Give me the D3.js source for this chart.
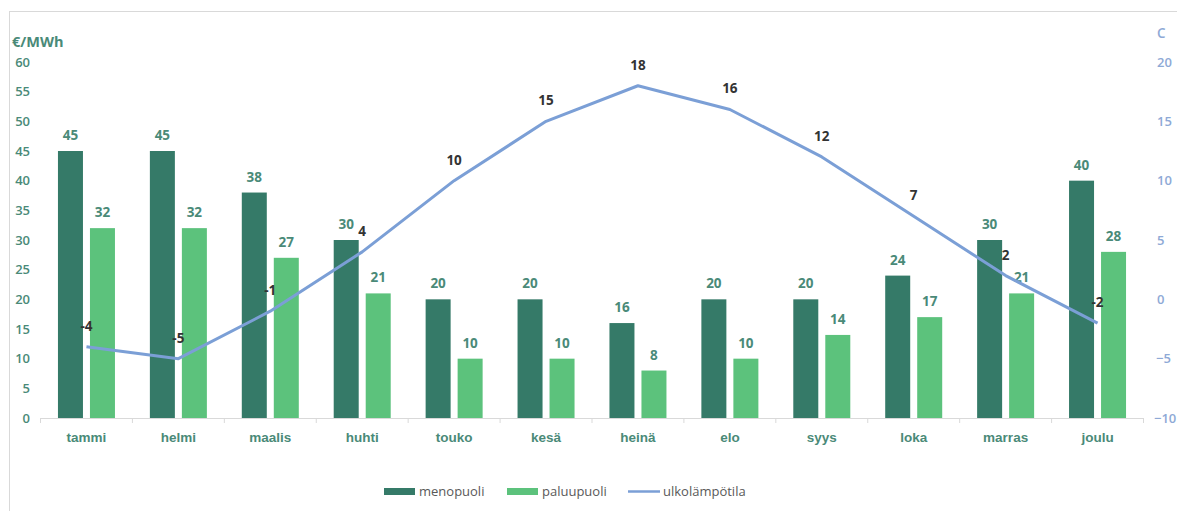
<!DOCTYPE html>
<html>
<head>
<meta charset="utf-8">
<script src="https://cdn.jsdelivr.net/npm/d3@7"></script>
<style>
  html, body { margin: 0; padding: 0; background: #fff; }
  svg { display: block; font-family: "Open Sans", "Noto Sans", sans-serif; }
</style>
</head>
<body>
<svg id="chart" width="1177" height="511"></svg>
<script>
// Monthly supply / return prices and outdoor temperature
const months = ["tammi", "helmi", "maalis", "huhti", "touko", "kesä", "heinä", "elo", "syys", "loka", "marras", "joulu"];
const menopuoli = [45, 45, 38, 30, 20, 20, 16, 20, 20, 24, 30, 40];
const paluupuoli = [32, 32, 27, 21, 10, 10, 8, 10, 14, 17, 21, 28];
const ulkolampotila = [-4, -5, -1, 4, 10, 15, 18, 16, 12, 7, 2, -2];
const leftTicks = [0, 5, 10, 15, 20, 25, 30, 35, 40, 45, 50, 55, 60];
const rightTicks = [-10, -5, 0, 5, 10, 15, 20];
const seriesNames = ["menopuoli", "paluupuoli", "ulkolämpötila"];

const colDark = "#357a68";
const colLight = "#5cc27c";
const colLine = "#7b9fd6";
const colAxisL = "#4a8a78";
const colAxisR = "#8ea9d6";

const svg = d3.select("#chart");

// chart frame
svg.append("rect")
  .attr("x", 9.5).attr("y", 11.5)
  .attr("width", 1180).attr("height", 520)
  .attr("fill", "none").attr("stroke", "#d9d9d9").attr("stroke-width", 1);

const plot = { left: 40.5, right: 1143.5, top: 62, bottom: 418 };

const x = d3.scaleBand().domain(months).range([plot.left, plot.right]).paddingInner(0).paddingOuter(0);
const yL = d3.scaleLinear().domain([0, 60]).range([plot.bottom, plot.top]);
const yR = d3.scaleLinear().domain([-10, 20]).range([plot.bottom, plot.top]);

const barW = 25, gap = 7;

// left axis
const axL = svg.append("g").attr("transform", `translate(${30},0)`)
  .call(d3.axisLeft(yL).tickValues(leftTicks).tickSize(0).tickPadding(0));
axL.select(".domain").remove();
axL.selectAll("text").attr("fill", colAxisL).attr("font-size", 13).attr("font-weight", 600)
  .attr("font-family", "'Open Sans', sans-serif");

svg.append("text").attr("x", 12).attr("y", 47).text("€/MWh")
  .attr("fill", colAxisL).attr("font-size", 14.5).attr("font-weight", 700);

// right axis
const axR = svg.append("g").attr("transform", `translate(${1157},0)`)
  .call(d3.axisRight(yR).tickValues(rightTicks).tickSize(0).tickPadding(0));
axR.select(".domain").remove();
axR.selectAll("text").attr("fill", colAxisR).attr("font-size", 13).attr("font-weight", 600)
  .attr("font-family", "'Open Sans', sans-serif")
  .attr("dx", d => d < 0 ? (d === -10 ? -3 : -1) : 0);

svg.append("text").attr("x", 1157).attr("y", 38).text("C")
  .attr("fill", colAxisR).attr("font-size", 13.5).attr("font-weight", 600);

// category axis
const axB = svg.append("g").attr("transform", `translate(0,${plot.bottom})`)
  .call(d3.axisBottom(x).tickSize(0).tickPadding(14));
axB.select(".domain").attr("stroke", "#d9d9d9");
axB.selectAll("text").attr("fill", colAxisL).attr("font-size", 13.5).attr("font-weight", 700);
svg.append("g").selectAll("line")
  .data(d3.range(months.length + 1))
  .join("line")
  .attr("x1", i => plot.left + i * x.step()).attr("x2", i => plot.left + i * x.step())
  .attr("y1", plot.bottom).attr("y2", plot.bottom + 5)
  .attr("stroke", "#d9d9d9");

// bars
const cx = m => x(m) + x.bandwidth() / 2;
const g = svg.append("g");
g.selectAll(".b1").data(months).join("rect")
  .attr("x", m => cx(m) - gap / 2 - barW)
  .attr("y", (m, i) => yL(menopuoli[i]))
  .attr("width", barW)
  .attr("height", (m, i) => yL(0) - yL(menopuoli[i]))
  .attr("fill", colDark);
g.selectAll(".b2").data(months).join("rect")
  .attr("x", m => cx(m) + gap / 2)
  .attr("y", (m, i) => yL(paluupuoli[i]))
  .attr("width", barW)
  .attr("height", (m, i) => yL(0) - yL(paluupuoli[i]))
  .attr("fill", colLight);

// bar value labels
g.selectAll(".l1").data(months).join("text")
  .attr("x", m => cx(m) - gap / 2 - barW / 2)
  .attr("y", (m, i) => yL(menopuoli[i]) - 11)
  .attr("text-anchor", "middle")
  .attr("fill", colAxisL).attr("font-size", 13.5).attr("font-weight", 700)
  .text((m, i) => menopuoli[i]);
g.selectAll(".l2").data(months).join("text")
  .attr("x", m => cx(m) + gap / 2 + barW / 2)
  .attr("y", (m, i) => yL(paluupuoli[i]) - 11)
  .attr("text-anchor", "middle")
  .attr("fill", colAxisL).attr("font-size", 13.5).attr("font-weight", 700)
  .text((m, i) => paluupuoli[i]);

// temperature line
const line = d3.line().x((d, i) => cx(months[i])).y(d => yR(d));
svg.append("path").datum(ulkolampotila)
  .attr("d", line).attr("fill", "none")
  .attr("stroke", colLine).attr("stroke-width", 3).attr("stroke-linejoin", "round");

svg.append("g").selectAll("text").data(ulkolampotila).join("text")
  .attr("x", (d, i) => cx(months[i]))
  .attr("y", d => yR(d) - 16)
  .attr("text-anchor", "middle")
  .attr("fill", "#333").attr("font-size", 13.5).attr("font-weight", 700)
  .text(d => d);

// legend
const leg = svg.append("g").attr("font-size", 13).attr("fill", "#595959");
const legItems = [
  { x: 384, type: "rect", color: colDark, name: seriesNames[0] },
  { x: 507, type: "rect", color: colLight, name: seriesNames[1] },
  { x: 628, type: "line", color: colLine, name: seriesNames[2] }
];
legItems.forEach(it => {
  if (it.type === "rect") {
    leg.append("rect").attr("x", it.x).attr("y", 488).attr("width", 31).attr("height", 7).attr("fill", it.color);
  } else {
    leg.append("line").attr("x1", it.x).attr("x2", it.x + 32).attr("y1", 491.5).attr("y2", 491.5)
      .attr("stroke", it.color).attr("stroke-width", 2.5);
  }
  leg.append("text").attr("x", it.x + 35).attr("y", 496).attr("fill", "#595959").text(it.name);
});
</script>
</body>
</html>
